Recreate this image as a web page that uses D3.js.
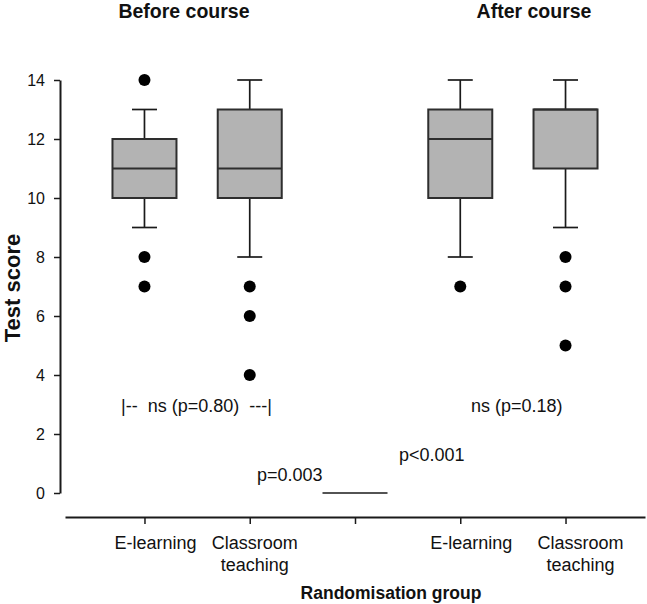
<!DOCTYPE html>
<html>
<head>
<meta charset="utf-8">
<script src="https://cdn.jsdelivr.net/npm/d3@7"></script>
<style>
  html, body { margin: 0; padding: 0; background: #fff; }
  svg { display: block; font-family: "Liberation Sans", Arial, sans-serif; }
  text { white-space: pre; }
</style>
</head>
<body>
<svg id="chart" width="647" height="604"></svg>
<script>
// ---- data ----
const slotKeys = ["b_el", "b_cl", "gap", "a_el", "a_cl"];
const slotLabels = [["E-learning"], ["Classroom", "teaching"], [], ["E-learning"], ["Classroom", "teaching"]];
const boxKeys = ["b_el", "b_cl", "a_el", "a_cl"];
const whiskerLow = [9, 8, 8, 9];
const q1 = [10, 10, 10, 11];
const median = [11, 11, 12, 13];
const q3 = [12, 13, 13, 13];
const whiskerHigh = [13, 14, 14, 14];
const outliers = [[14, 8, 7], [7, 6, 4], [7], [8, 7, 5]];
const yTicks = [0, 2, 4, 6, 8, 10, 12, 14];
const panelTitles = ["Before course", "After course"];
const yTitle = "Test score";
const xTitle = "Randomisation group";
const annotations = [
  { text: "|--  ns (p=0.80)  ---|", value: 2.75, x: 121 },
  { text: "ns (p=0.18)", value: 2.75, x: 471 },
  { text: "p<0.001", value: 1.1, x: 399 },
  { text: "p=0.003", value: 0.4, x: 257 }
];
const lineValue = 0;

// ---- layout ----
const svg = d3.select("#chart");
const y = d3.scaleLinear().domain([0, 14]).range([493, 80]);
const x = d3.scalePoint().domain(slotKeys).range([65, 645]).padding(0.755);
const boxW = 64, capW = 25;
const ink = "#1a1a1a";

// y axis
const yAxis = svg.append("g").attr("transform", "translate(60,0)")
  .call(d3.axisLeft(y).tickValues(yTicks).tickSize(6).tickSizeOuter(0).tickPadding(9));
yAxis.select(".domain").attr("stroke", ink).attr("stroke-width", 2);
yAxis.selectAll(".tick line").attr("stroke", ink).attr("stroke-width", 1.5);
yAxis.selectAll(".tick text").attr("font-size", 16).attr("fill", "#111")
  .attr("font-family", "Liberation Sans, Arial, sans-serif");

// x axis
const xAxis = svg.append("g").attr("transform", "translate(0,517)")
  .call(d3.axisBottom(x).tickSize(7).tickSizeOuter(0).tickFormat(""));
xAxis.select(".domain").attr("stroke", ink).attr("stroke-width", 2);
xAxis.selectAll(".tick line").attr("stroke", ink).attr("stroke-width", 1.5);

// x tick labels
const labelDx = [11, 5, 0, 11, 15];
slotKeys.forEach((k, i) => {
  slotLabels[i].forEach((t, j) => {
    svg.append("text")
      .attr("x", x(k) + labelDx[i]).attr("y", 549 + j * 22)
      .attr("text-anchor", "middle").attr("font-size", 18).attr("fill", "#111")
      .text(t);
  });
});

// boxes
const g = svg.append("g");
boxKeys.forEach((k, i) => {
  const cx = x(k);
  g.append("line").attr("x1", cx).attr("x2", cx).attr("y1", y(q3[i])).attr("y2", y(whiskerHigh[i]))
    .attr("stroke", ink).attr("stroke-width", 1.7);
  g.append("line").attr("x1", cx).attr("x2", cx).attr("y1", y(q1[i])).attr("y2", y(whiskerLow[i]))
    .attr("stroke", ink).attr("stroke-width", 1.7);
  if (whiskerHigh[i] > q3[i])
    g.append("line").attr("x1", cx - capW / 2).attr("x2", cx + capW / 2)
      .attr("y1", y(whiskerHigh[i])).attr("y2", y(whiskerHigh[i])).attr("stroke", ink).attr("stroke-width", 1.7);
  g.append("line").attr("x1", cx - capW / 2).attr("x2", cx + capW / 2)
    .attr("y1", y(whiskerLow[i])).attr("y2", y(whiskerLow[i])).attr("stroke", ink).attr("stroke-width", 1.7);
  g.append("rect").attr("x", cx - boxW / 2).attr("y", y(q3[i]))
    .attr("width", boxW).attr("height", y(q1[i]) - y(q3[i]))
    .attr("fill", "#b3b3b3").attr("stroke", "#2e2e2e").attr("stroke-width", 2);
  g.append("line").attr("x1", cx - boxW / 2).attr("x2", cx + boxW / 2)
    .attr("y1", y(median[i])).attr("y2", y(median[i])).attr("stroke", "#2e2e2e").attr("stroke-width", 2);
  outliers[i].forEach(v => {
    g.append("circle").attr("cx", cx).attr("cy", y(v)).attr("r", 6).attr("fill", "#000");
  });
});

// annotations
annotations.forEach(a => {
  svg.append("text").attr("x", a.x).attr("y", y(a.value))
    .attr("font-size", 18).attr("fill", "#111").text(a.text);
});
svg.append("line").attr("x1", x("gap") - 32.5).attr("x2", x("gap") + 32.5)
  .attr("y1", y(lineValue)).attr("y2", y(lineValue)).attr("stroke", ink).attr("stroke-width", 1.7);

// titles
svg.append("text").attr("x", 184).attr("y", 18).attr("text-anchor", "middle")
  .attr("font-size", 19.5).attr("font-weight", "bold").attr("fill", "#111").text(panelTitles[0]);
svg.append("text").attr("x", 534).attr("y", 18).attr("text-anchor", "middle")
  .attr("font-size", 19.5).attr("font-weight", "bold").attr("fill", "#111").text(panelTitles[1]);
svg.append("text").attr("transform", "translate(20,288) rotate(-90)").attr("text-anchor", "middle")
  .attr("font-size", 22).attr("font-weight", "bold").attr("fill", "#111").text(yTitle);
svg.append("text").attr("x", 391).attr("y", 599).attr("text-anchor", "middle")
  .attr("font-size", 17.5).attr("font-weight", "bold").attr("fill", "#111").text(xTitle);
</script>
</body>
</html>
